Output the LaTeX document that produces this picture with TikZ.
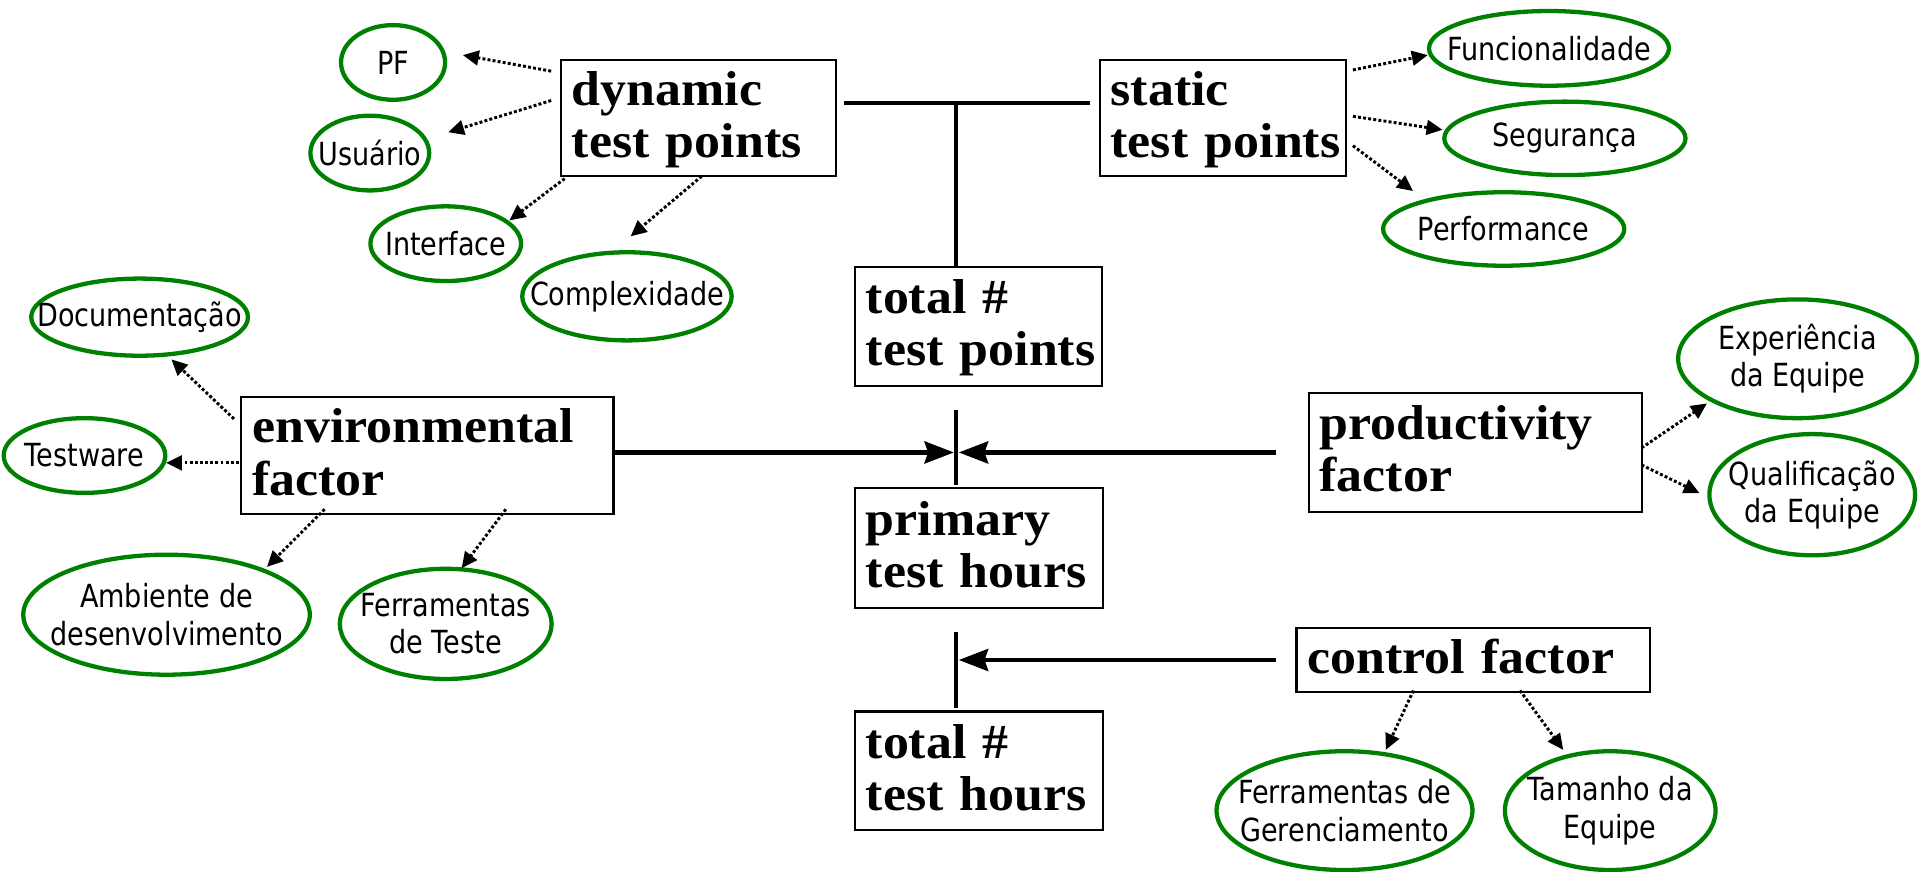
\documentclass[tikz,border=0pt]{standalone}
\usepackage{fontspec}
\usetikzlibrary{arrows.meta,shapes.geometric}
\newfontfamily\boxfont[FakeStretch=1.06]{Liberation Serif}
\newfontfamily\ovalfont[FakeStretch=0.85]{DejaVu Sans}
\definecolor{ovalgreen}{RGB}{0,128,0}
\tikzset{>/.tip={Triangle[length=13pt,width=12pt]},
  blk/.style={draw, line width=1.8pt, align=left, inner xsep=9pt, inner ysep=0pt,
    font=\boxfont\bfseries\fontsize{40}{42.5}\selectfont,
    execute at begin node={\rule{0pt}{33pt}},
    execute at end node={\rule[-11pt]{0pt}{11pt}}},
  oval/.style={ellipse, draw=ovalgreen, line width=3.5pt, inner sep=0pt},
  every label/.style={align=center, inner sep=0pt, font=\ovalfont\fontsize{26}{30.5}\selectfont},
  dotarr/.style={->, line width=2.4pt, dash pattern=on 2.4pt off 1.8pt},
  mainarr/.style={line width=3.5pt, -{Stealth[length=24pt,width=18pt,inset=3pt]}},
  vline/.style={line width=3.3pt}}

\begin{document}
\begin{tikzpicture}[x=1pt,y=-1pt]
\useasboundingbox (0,0) rectangle (1568,712);
\node[blk, text width=207pt, minimum height=95pt] (dyn)  at (570.5,96.5) {dynamic\\test~points};
\node[blk, text width=183pt, minimum height=95pt] (stat) at (998.5,96.5) {static\\test~points};
\node[blk, text width=184pt, minimum height=97pt] (totp) at (799,266.5)  {total~\#\\test~points};
\node[blk, text width=286pt, minimum height=96pt] (env)  at (349,372)    {environmental\\factor};
\node[blk, text width=254pt, minimum height=97pt] (prod) at (1204.7,369.5) {productivity\\factor};
\node[blk, text width=185pt, minimum height=98pt] (prim) at (799.5,447.8) {primary\\test~hours};
\node[blk, text width=271pt, minimum height=52pt] (ctrl) at (1203.3,539) {control~factor};
\node[blk, text width=185pt, minimum height=97pt] (toth) at (799.5,629.5) {total~\#\\test~hours};

\node[oval, minimum width=85pt,  minimum height=61pt, label=center:PF] (pf) at (321,51) {};
\node[oval, minimum width=97pt,  minimum height=61pt, label=center:Usuário] (usu) at (302,125) {};
\node[oval, minimum width=123pt, minimum height=61pt, label=center:Interface] (intf) at (364,199) {};
\node[oval, minimum width=171pt, minimum height=72pt, label=center:Complexidade] (cplx) at (512,242) {};
\node[oval, minimum width=196pt, minimum height=61pt, label=center:Funcionalidade] (func) at (1265,39.5) {};
\node[oval, minimum width=197pt, minimum height=60pt, label=center:Segurança] (seg) at (1278,113) {};
\node[oval, minimum width=197pt, minimum height=60pt, label=center:Performance] (perf) at (1228,187) {};
\node[oval, minimum width=177pt, minimum height=63pt, label=center:Documentação] (doc) at (114,259) {};
\node[oval, minimum width=132pt, minimum height=61pt, label=center:Testware] (tw) at (69,372) {};
\node[oval, minimum width=234pt, minimum height=98pt, label={center:Ambiente de\\desenvolvimento}] (amb) at (136,502) {};
\node[oval, minimum width=173pt, minimum height=90pt, label={center:Ferramentas\\de Teste}] (fert) at (364,509.5) {};
\node[oval, minimum width=195pt, minimum height=97pt, label={center:Experiência\\da Equipe}] (exp) at (1468,293) {};
\node[oval, minimum width=168pt, minimum height=99pt, label={center:Qualificação\\da Equipe}] (qual) at (1480,404) {};
\node[oval, minimum width=209pt, minimum height=97pt, label={center:Ferramentas de\\Gerenciamento}] (ferg) at (1098,662) {};
\node[oval, minimum width=172pt, minimum height=97pt, label={center:Tamanho da\\Equipe}] (tam) at (1315,662) {};

\coordinate (tp) at (781,84);
\coordinate (hx) at (781,369.5);
\coordinate (lx) at (781,539);
\draw[vline] ([shift={(5,-12.5)}]dyn.east) -- ([shift={(-7,-12.5)}]stat.west);
\draw[vline] (tp) -- (tp |- totp.north);
\draw[mainarr] ([shift={(0,-2.5)}]env.east) -- ([xshift=-2pt]hx);
\draw[mainarr] ([xshift=-25.6pt]prod.west) -- ([xshift=2pt]hx);
\draw[vline] ([yshift=35pt]hx) -- ([yshift=-26.5pt]hx);
\draw[mainarr] ([xshift=-15.6pt]ctrl.west) -- ([xshift=2pt]lx);
\draw[vline] ([yshift=23pt]lx) -- ([yshift=-39.5pt]lx);

\draw[dotarr] ([shift={(-7,10)}]dyn.north west) -- ([shift={(57,-6)}]pf.center);
\draw[dotarr] ([shift={(-7,34)}]dyn.north west) -- ([shift={(64,-17)}]usu.center);
\draw[dotarr] ([shift={(4,1)}]dyn.south west) -- ([shift={(52,-19)}]intf.center);
\draw[dotarr] ([shift={(2.5,-1)}]dyn.south) -- ([shift={(3,-49)}]cplx.center);
\draw[dotarr] ([shift={(5,9)}]stat.north east) -- ([shift={(-99,5.5)}]func.center);
\draw[dotarr] ([shift={(5,-1.5)}]stat.east) -- ([shift={(-100,-7)}]seg.center);
\draw[dotarr] ([shift={(5,22.5)}]stat.east) -- ([shift={(-74,-31)}]perf.center);
\draw[dotarr] ([shift={(-5,19)}]env.north west) -- ([shift={(26,34.5)}]doc.center);
\draw[dotarr] ([shift={(-1,6)}]env.west) -- ([shift={(66.6,6)}]tw.center);
\draw[dotarr] ([shift={(69,-5)}]env.south west) -- ([shift={(82,-39)}]amb.center);
\draw[dotarr] ([shift={(217,-5)}]env.south west) -- ([shift={(13,-45.5)}]fert.center);
\draw[dotarr] ([shift={(-1,-3.7)}]prod.east) -- ([shift={(-74,36.5)}]exp.center);
\draw[dotarr] ([shift={(-1,10.2)}]prod.east) -- ([shift={(-92,-1.2)}]qual.center);
\draw[dotarr] ([shift={(-49,-2)}]ctrl.south) -- ([shift={(33.7,-49.6)}]ferg.center);
\draw[dotarr] ([shift={(38,-2)}]ctrl.south) -- ([shift={(-38.4,-49.6)}]tam.center);
\end{tikzpicture}
\end{document}
